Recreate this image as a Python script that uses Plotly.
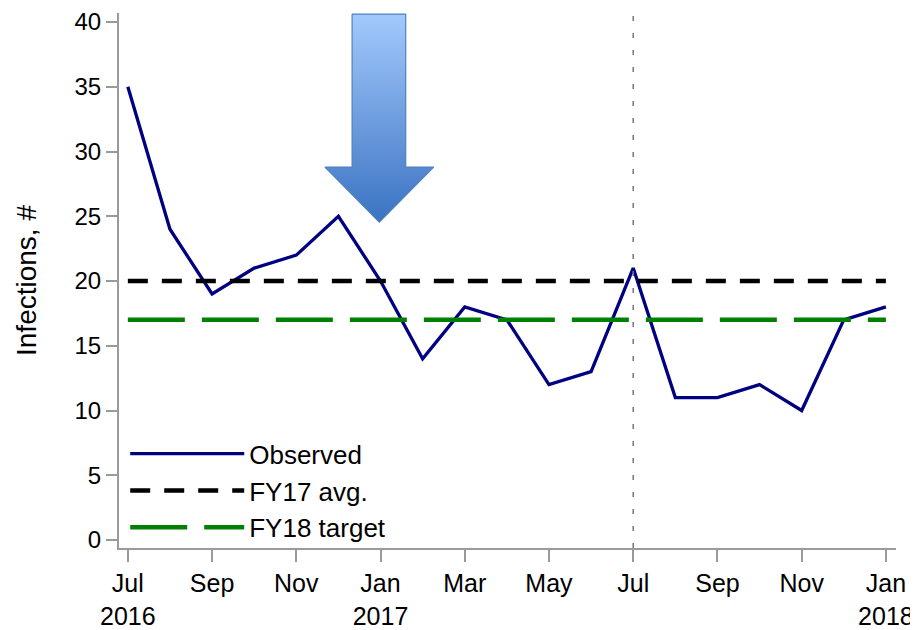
import plotly.graph_objects as go

# monthly infection counts, Jul 2016 .. Jan 2018
months = ["Jul 2016", "Aug 2016", "Sep 2016", "Oct 2016", "Nov 2016", "Dec 2016",
          "Jan 2017", "Feb 2017", "Mar 2017", "Apr 2017", "May 2017", "Jun 2017",
          "Jul 2017", "Aug 2017", "Sep 2017", "Oct 2017", "Nov 2017", "Dec 2017",
          "Jan 2018"]
observed = [35, 24, 19, 21, 22, 25, 20, 14, 18, 17, 12, 13, 21, 11, 11, 12, 10, 17, 18]
fy17_avg = 20
fy18_target = 17

tick_idx = [0, 2, 4, 6, 8, 10, 12, 14, 16, 18]
tick_text = ["Jul<br>2016", "Sep", "Nov", "Jan<br>2017", "Mar", "May",
             "Jul", "Sep", "Nov", "Jan<br>2018"]

x = list(range(len(months)))

# decorative arrow outline (paper-like 0..1 coordinates on an overlay axis)
arrow_x = [0.300, 0.369, 0.369, 0.405, 0.335, 0.265, 0.300, 0.300]
arrow_y = [0.998, 0.998, 0.712, 0.712, 0.609, 0.712, 0.712, 0.998]

fig = go.Figure()

fig.add_trace(go.Scatter(
    x=x, y=observed, name="Observed", mode="lines",
    line=dict(color="#000080", width=3.3),
    text=months, hovertemplate="%{text}: %{y}<extra></extra>",
))
fig.add_trace(go.Scatter(
    x=x, y=[fy17_avg] * len(x), name="FY17 avg.", mode="lines",
    line=dict(color="black", width=4.5, dash="20px,14px"),
))
fig.add_trace(go.Scatter(
    x=x, y=[fy18_target] * len(x), name="FY18 target", mode="lines",
    line=dict(color="#008000", width=4.5, dash="57px,17px"),
))
fig.add_trace(go.Scatter(
    x=arrow_x, y=arrow_y, xaxis="x2", yaxis="y2",
    mode="lines", fill="toself", showlegend=False, hoverinfo="skip",
    line=dict(color="#4f81bd", width=1.2),
    fillgradient=dict(type="vertical",
                      colorscale=[[0, "#3a73c2"], [1, "#a3c9fc"]]),
))

fig.add_shape(type="line", xref="x", yref="paper", x0=12, x1=12, y0=0, y1=1,
              line=dict(color="#777777", width=1.5, dash="5px,12px"))

axis_col = "#9a9a9a"
# page body adds an 8px offset, so the figure is 8px smaller than the window
fig.update_layout(
    width=910, height=622,
    margin=dict(l=111, r=22, t=5, b=82),
    plot_bgcolor="white", paper_bgcolor="white",
    font=dict(family="Liberation Sans, Arial, sans-serif", size=25, color="black"),
    xaxis=dict(
        range=[-0.21, 18.24], tickvals=tick_idx, ticktext=tick_text, automargin=False,
        showgrid=False, zeroline=False, showline=True, linecolor=axis_col, linewidth=2,
        ticks="outside", ticklen=12, tickwidth=2, tickcolor=axis_col,
        ticklabeloverflow="allow",
    ),
    yaxis=dict(
        range=[-0.62, 40.7], tickvals=[0, 5, 10, 15, 20, 25, 30, 35, 40], automargin=False,
        showgrid=False, zeroline=False, showline=True, linecolor=axis_col, linewidth=2,
        ticks="outside", ticklen=11, tickwidth=1.5, tickcolor=axis_col,
        tickfont=dict(size=24), ticklabeloverflow="allow",
        title=dict(text="Infections, #", font=dict(size=28), standoff=30),
    ),
    xaxis2=dict(range=[0, 1], overlaying="x", visible=False, fixedrange=True),
    yaxis2=dict(range=[0, 1], overlaying="y", visible=False, fixedrange=True),
    legend=dict(
        x=0.008, y=-0.006, xanchor="left", yanchor="bottom",
        bgcolor="rgba(255,255,255,0)", itemwidth=114,
        font=dict(size=26), tracegroupgap=0,
    ),
)

fig.write_html("out.html")
